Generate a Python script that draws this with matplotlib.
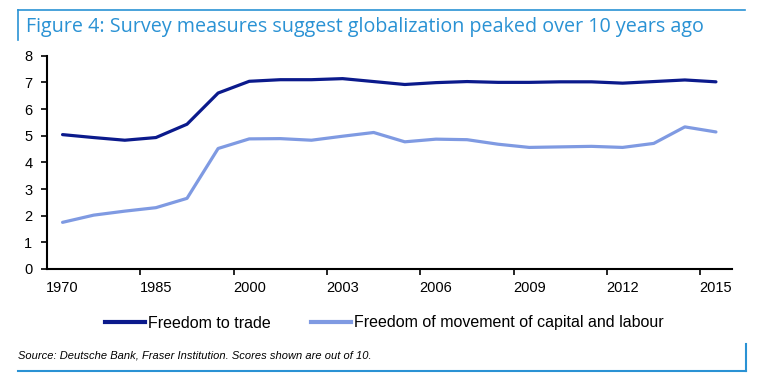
import matplotlib
matplotlib.use("Agg")
import matplotlib.pyplot as plt
from matplotlib.lines import Line2D

categories = ["1970", "1975", "1980", "1985", "1990", "1995", "2000", "2001", "2002",
              "2003", "2004", "2005", "2006", "2007", "2008", "2009", "2010", "2011",
              "2012", "2013", "2014", "2015"]
freedom_trade = [5.04, 4.93, 4.83, 4.93, 5.43, 6.60, 7.04, 7.10, 7.10, 7.14, 7.03,
                 6.92, 6.99, 7.03, 7.00, 7.00, 7.02, 7.02, 6.97, 7.03, 7.09, 7.02]
freedom_movement = [1.75, 2.02, 2.17, 2.30, 2.65, 4.52, 4.88, 4.89, 4.83, 4.98, 5.12,
                    4.77, 4.87, 4.85, 4.68, 4.56, 4.58, 4.60, 4.56, 4.71, 5.33, 5.14]
label_every = 3
series_names = ["Freedom to trade", "Freedom of movement of capital and labour"]

DARK = "#0b1a8c"
LIGHT = "#7f9ae2"
BLUE = "#2a92d4"

W, H = 758, 377
fig = plt.figure(figsize=(W / 100, H / 100), dpi=100)
plt.rcParams['font.family'] = ['Liberation Sans', 'DejaVu Sans']

ax = fig.add_axes([47 / W, 1 - 269 / H, (731.5 - 47) / W, (269 - 55.7) / H])
x = list(range(len(categories)))
ax.plot(x, freedom_trade, color=DARK, lw=2.3, solid_capstyle='round', solid_joinstyle='round')
ax.plot(x, freedom_movement, color=LIGHT, lw=2.3, solid_capstyle='round', solid_joinstyle='round')

ax.set_xlim(-0.5, len(categories) - 0.5)
ax.set_ylim(0, 8)
ax.set_yticks(range(0, 9))
ax.tick_params(axis='y', direction='out', length=4.5, width=1.2, labelsize=10.5, pad=6, colors='black')

major = [i - 0.5 for i in range(label_every, len(categories), label_every)]
ax.set_xticks(major)
ax.set_xticklabels([''] * len(major))
ax.tick_params(axis='x', which='major', direction='out', length=4.5, width=1.2)
lab_pos = list(range(0, len(categories), label_every))
ax.set_xticks(lab_pos, minor=True)
ax.set_xticklabels([categories[i] for i in lab_pos], minor=True)
ax.tick_params(axis='x', which='minor', length=0, labelsize=10.5, pad=9)

for s in ['top', 'right']:
    ax.spines[s].set_visible(False)
for s in ['left', 'bottom']:
    ax.spines[s].set_linewidth(1.5)
    ax.spines[s].set_color('black')

# legend
handles = [Line2D([], [], color=DARK, lw=3), Line2D([], [], color=LIGHT, lw=3)]
fig.legend(handles, series_names, loc='center left', bbox_to_anchor=(105 / W, 1 - 323 / H),
           ncol=2, frameon=False, fontsize=11.5, handlelength=2.5, handletextpad=0.2,
           columnspacing=2.5, borderpad=0, borderaxespad=0)

# title & frame
fig.text(26 / W, 1 - 27 / H, "Figure 4: Survey measures suggest globalization peaked over 10 years ago",
         color=BLUE, fontsize=14.2, va='center', ha='left', family=['Open Sans', 'DejaVu Sans'])
fig.add_artist(Line2D([17.5 / W, 745 / W], [1 - 10 / H, 1 - 10 / H], color=BLUE, lw=1.2))
fig.add_artist(Line2D([17.5 / W, 17.5 / W], [1 - 10 / H, 1 - 40 / H], color=BLUE, lw=1.2))
fig.add_artist(Line2D([18 / W, 746 / W], [1 - 371 / H, 1 - 371 / H], color=BLUE, lw=1.5))
fig.add_artist(Line2D([746 / W, 746 / W], [1 - 371 / H, 1 - 344 / H], color=BLUE, lw=1.5))

fig.text(18 / W, 1 - 355 / H, "Source: Deutsche Bank, Fraser Institution. Scores shown are out of 10.",
         fontsize=8, style='italic', va='center', ha='left', color='black')

fig.savefig("out.png", dpi=100)
